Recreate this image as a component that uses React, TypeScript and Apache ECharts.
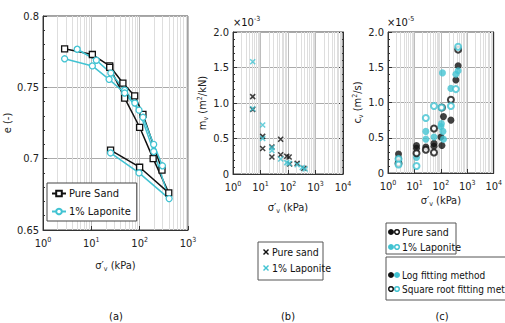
import React, { useEffect, useRef } from "react";
import * as echarts from "echarts";

// ---------- Panel (a): e vs sigma'v ----------
const sandA_x = [2.8, 10.5, 24, 45, 79, 117, 290];
const sandA_e = [0.777, 0.773, 0.765, 0.753, 0.744, 0.731, 0.692];
const sandB_x = [24, 49, 100, 190, 400, 100, 25];
const sandB_e = [0.764, 0.7425, 0.722, 0.7, 0.676, 0.694, 0.706];
const lapA_x = [5.1, 12.7, 25.3, 49, 79.5, 117, 195, 296];
const lapA_e = [0.7767, 0.769, 0.76, 0.748, 0.739, 0.729, 0.71, 0.695];
const lapB_x = [2.8, 10.5, 23.3, 49, 97, 195, 407, 97, 25];
const lapB_e = [0.77, 0.765, 0.7556, 0.746, 0.734, 0.705, 0.672, 0.69, 0.704];

// ---------- Panel (b): mv (x1e-3 m2/kN) ----------
const mvSand_x = [5.2, 5.2, 12, 12, 26, 26, 54, 54, 90, 110, 115, 215, 380];
const mvSand_y = [1.09, 0.91, 0.53, 0.36, 0.38, 0.24, 0.49, 0.27, 0.25, 0.24, 0.14, 0.15, 0.08];
const mvLap_x = [5.2, 5.2, 12, 12, 26, 26, 54, 90, 110, 215, 330, 420];
const mvLap_y = [1.58, 0.92, 0.69, 0.5, 0.37, 0.33, 0.21, 0.16, 0.15, 0.13, 0.09, 0.07];

// ---------- Panel (c): cv (x1e-5 m2/s) ----------
const cvSandLog_x = [2.5, 2.5, 12, 12, 27, 55, 55, 100, 110, 125, 240, 370, 450];
const cvSandLog_y = [0.27, 0.21, 0.39, 0.35, 0.37, 0.42, 0.38, 0.51, 0.39, 0.8, 0.75, 1.32, 1.52];
const cvSandSqrt_x = [2.5, 12, 27, 55, 55, 110, 240, 450];
const cvSandSqrt_y = [0.14, 0.28, 0.33, 0.63, 0.29, 0.93, 1.04, 1.75];
const cvLapLog_x = [2.5, 12, 27, 27, 55, 100, 105, 115, 120, 125, 240, 370, 450];
const cvLapLog_y = [0.18, 0.22, 0.59, 0.48, 0.51, 0.66, 0.7, 1.42, 0.59, 0.48, 1.2, 1.4, 1.45];
const cvLapSqrt_x = [2.5, 2.5, 12, 27, 55, 105, 240, 370, 450];
const cvLapSqrt_y = [0.2, 0.12, 0.1, 0.78, 0.95, 0.93, 0.95, 1.19, 1.79];

const minorA = [2, 3, 4, 5, 6, 7, 8, 9, 20, 30, 40, 50, 60, 70, 80, 90, 200, 300, 400, 500, 600, 700, 800, 900];
const minorBC = [...minorA, 2000, 3000, 4000, 5000, 6000, 7000, 8000, 9000];

const CYAN = "#42c3d2";
const BLACK = "#111111";
const FONT = '"Liberation Sans Narrow", "DejaVu Sans Condensed", "Liberation Sans", Arial, sans-serif';

const zip = (xs: number[], ys: number[]) => xs.map((x, i) => [x, ys[i]]);

const logLabel = {
  fontFamily: FONT,
  fontSize: 11,
  color: "#222",
  margin: 6,
  formatter: (v: number) => `{b|10}{s|${Math.round(Math.log10(v))}}`,
  rich: {
    b: { fontFamily: FONT, fontSize: 11, color: "#222" },
    s: { fontFamily: FONT, fontSize: 7, color: "#222", verticalAlign: "bottom", padding: [0, 0, 7, 0] },
  },
};

function xAxisLog(gridIndex: number, max: number, nameGap: number) {
  return {
    type: "log",
    logBase: 10,
    gridIndex,
    min: 1,
    max,
    name: "σ′{sub|v} (kPa)",
    nameLocation: "middle",
    nameGap,
    nameTextStyle: {
      fontFamily: FONT,
      fontSize: 11,
      color: "#222",
      rich: { sub: { fontFamily: FONT, fontSize: 7, verticalAlign: "top", padding: [6, 0, 0, 0] } },
    },
    axisLine: { show: true, lineStyle: { color: "#333", width: 1 } },
    axisTick: { show: true, inside: true, length: 4, lineStyle: { color: "#333" } },
    axisLabel: logLabel,
    splitLine: { show: true, lineStyle: { color: "#bdbdbd", width: 1 } },
  };
}

function minorSeries(xAxisIndex: number, yAxisIndex: number, vals: number[]) {
  return {
    type: "scatter",
    xAxisIndex,
    yAxisIndex,
    data: [],
    silent: true,
    z: 1,
    markLine: {
      silent: true,
      symbol: ["none", "none"],
      label: { show: false },
      lineStyle: { color: "#dedede", width: 1, type: "solid" },
      data: vals.map((v) => ({ xAxis: v })),
      animation: false,
    },
  };
}

export default function App() {
  const ref = useRef<HTMLDivElement>(null);
  useEffect(() => {
    if (!ref.current) return;
    const chart = echarts.init(ref.current, undefined, { renderer: "svg" });

    const yCommon = {
      axisLine: { show: true, lineStyle: { color: "#333", width: 1 } },
      axisTick: { show: true, inside: true, length: 4, lineStyle: { color: "#333" } },
      minorTick: { show: true, splitNumber: 5, length: 2, lineStyle: { color: "#333" } },
      splitLine: { show: true, lineStyle: { color: "#aaaaaa", width: 1 } },
    };
    const yName = (nameGap: number) => ({
      nameLocation: "middle",
      nameGap,
      nameTextStyle: {
        fontFamily: FONT,
        fontSize: 11,
        color: "#222",
        rich: {
          sub: { fontFamily: FONT, fontSize: 7, verticalAlign: "top", padding: [6, 0, 0, 0] },
          sup: { fontFamily: FONT, fontSize: 7, verticalAlign: "bottom", padding: [0, 0, 6, 0] },
        },
      },
    });
    const yLabel = (fmt: (v: number) => string) => ({
      fontFamily: FONT,
      fontSize: 11,
      color: "#222",
      margin: 4,
      formatter: fmt,
    });
    const rightAxis = (gridIndex: number) => ({
      type: "value",
      gridIndex,
      position: "right",
      min: 0,
      max: 2,
      interval: 0.5,
      axisLine: { show: true, lineStyle: { color: "#333" } },
      axisTick: { show: true, inside: true, length: 4, lineStyle: { color: "#333" } },
      minorTick: { show: true, splitNumber: 5, length: 2, lineStyle: { color: "#333" } },
      axisLabel: { show: false },
      splitLine: { show: false },
    });

    const xMark = "path://M0,0L10,10M10,0L0,10";

    const lineA = (name: string, xs: number[], ys: number[], color: string, symbol: string) => ({
      type: "line",
      name,
      xAxisIndex: 0,
      yAxisIndex: 0,
      data: zip(xs, ys),
      symbol,
      symbolSize: 6,
      showSymbol: true,
      lineStyle: { color, width: 1.5 },
      itemStyle: { color: "#ffffff", borderColor: color, borderWidth: 1.3 },
      z: 5,
    });

    const dot = (name: string, xs: number[], ys: number[], color: string, open: boolean) => ({
      type: "scatter",
      name,
      xAxisIndex: 2,
      yAxisIndex: 3,
      data: zip(xs, ys),
      symbol: "circle",
      symbolSize: open ? 6 : 7,
      itemStyle: open
        ? { color: "#ffffff", borderColor: color, borderWidth: 2 }
        : { color, borderColor: color, borderWidth: 0 },
      z: open ? 6 : 5,
    });

    const gcircle = (cx: number, cy: number, color: string, open: boolean) => ({
      type: "circle",
      shape: { cx, cy, r: open ? 2.3 : 3 },
      style: open ? { fill: "#fff", stroke: color, lineWidth: 1.5 } : { fill: color, stroke: color, lineWidth: 0 },
      z: 100,
    });
    const gx = (cx: number, cy: number, color: string) => ({
      type: "group",
      z: 100,
      children: [
        { type: "line", shape: { x1: cx - 2.5, y1: cy - 2.5, x2: cx + 2.5, y2: cy + 2.5 }, style: { stroke: color, lineWidth: 1.4 }, z: 100 },
        { type: "line", shape: { x1: cx + 2.5, y1: cy - 2.5, x2: cx - 2.5, y2: cy + 2.5 }, style: { stroke: color, lineWidth: 1.4 }, z: 100 },
      ],
    });
    const gtext = (x: number, y: number, text: string, size = 11, align = "left", rich?: any) => ({
      type: "text",
      x,
      y,
      style: { text, fontFamily: FONT, fontSize: size, fill: "#111", verticalAlign: "middle", align, rich },
      z: 100,
    });

    const option: any = {
      animation: false,
      backgroundColor: "#ffffff",
      grid: [
        { left: 43, top: 16, width: 145, height: 214, show: true, borderColor: "#444", borderWidth: 1, backgroundColor: "transparent" },
        { left: 233, top: 32, width: 110, height: 142, show: true, borderColor: "#444", borderWidth: 1, backgroundColor: "transparent" },
        { left: 388, top: 32, width: 106, height: 141, show: true, borderColor: "#444", borderWidth: 1, backgroundColor: "transparent" },
      ],
      xAxis: [xAxisLog(0, 1000, 29), xAxisLog(1, 10000, 27), xAxisLog(2, 10000, 21)],
      yAxis: [
        {
          type: "value",
          gridIndex: 0,
          min: 0.65,
          max: 0.8,
          interval: 0.05,
          name: "e (-)",
          ...yName(27),
          ...yCommon,
          axisLabel: yLabel((v: number) => String(+v.toFixed(2))),
        },
        {
          type: "value",
          gridIndex: 1,
          min: 0,
          max: 2,
          interval: 0.5,
          name: "m{sub|v} (m{sup|2}/kN)",
          ...yName(22),
          ...yCommon,
          axisLabel: yLabel((v: number) => (v === 0 ? "0" : v.toFixed(1))),
        },
        rightAxis(1),
        {
          type: "value",
          gridIndex: 2,
          min: 0,
          max: 2,
          interval: 0.5,
          name: "c{sub|v} (m{sup|2}/s)",
          ...yName(17),
          ...yCommon,
          axisLabel: yLabel((v: number) => (v === 0 ? "0" : v.toFixed(1))),
        },
        rightAxis(2),
      ],
      legend: [
        {
          data: ["Pure Sand", "1% Laponite"],
          orient: "vertical",
          left: 47,
          top: 183,
          backgroundColor: "#ffffff",
          borderColor: "#444",
          borderWidth: 1,
          borderRadius: 0,
          padding: [5, 6, 4, 4],
          itemGap: 7,
          itemWidth: 14,
          itemHeight: 7,
          textStyle: { fontFamily: FONT, fontSize: 11, color: "#111", padding: [0, 0, 0, -2] },
          selectedMode: false,
          z: 50,
        },
      ],
      series: [
        minorSeries(0, 0, minorA),
        minorSeries(1, 1, minorBC),
        minorSeries(2, 3, minorBC),
        lineA("Pure Sand", sandA_x, sandA_e, BLACK, "rect"),
        lineA("Pure Sand", sandB_x, sandB_e, BLACK, "rect"),
        lineA("1% Laponite", lapA_x, lapA_e, CYAN, "circle"),
        lineA("1% Laponite", lapB_x, lapB_e, CYAN, "circle"),
        {
          type: "scatter",
          name: "mv Pure sand",
          xAxisIndex: 1,
          yAxisIndex: 1,
          data: zip(mvSand_x, mvSand_y),
          symbol: xMark,
          symbolSize: 5,
          itemStyle: { color: "transparent", borderColor: BLACK, borderWidth: 1.5 },
          z: 5,
        },
        {
          type: "scatter",
          name: "mv 1% Laponite",
          xAxisIndex: 1,
          yAxisIndex: 1,
          data: zip(mvLap_x, mvLap_y),
          symbol: xMark,
          symbolSize: 5,
          itemStyle: { color: "transparent", borderColor: CYAN, borderWidth: 1.5 },
          z: 5,
        },
        dot("cv sand log", cvSandLog_x, cvSandLog_y, BLACK, false),
        dot("cv lap log", cvLapLog_x, cvLapLog_y, CYAN, false),
        dot("cv sand sqrt", cvSandSqrt_x, cvSandSqrt_y, BLACK, true),
        dot("cv lap sqrt", cvLapSqrt_x, cvLapSqrt_y, CYAN, true),
      ],
      graphic: [
        gtext(233, 22, "×10{s|-3}", 11, "left", { s: { fontFamily: FONT, fontSize: 7, verticalAlign: "bottom", padding: [0, 0, 6, 0] } }),
        gtext(387, 22, "×10{s|-5}", 11, "left", { s: { fontFamily: FONT, fontSize: 7, verticalAlign: "bottom", padding: [0, 0, 6, 0] } }),
        // legend (b)
        { type: "rect", shape: { x: 258, y: 242, width: 65, height: 38 }, style: { fill: "#fff", stroke: "#555", lineWidth: 1 }, z: 90 },
        gx(266, 252, BLACK),
        gtext(272, 252, "Pure sand", 10.5),
        gx(266, 268, CYAN),
        gtext(272, 268, "1% Laponite", 10.5),
        // legend (c) box 1
        { type: "rect", shape: { x: 386, y: 223, width: 70, height: 31 }, style: { fill: "#fff", stroke: "#555", lineWidth: 1 }, z: 90 },
        gcircle(391, 232, BLACK, false),
        gcircle(397, 232, BLACK, true),
        gtext(402, 232, "Pure sand", 10.5),
        gcircle(391, 247, CYAN, false),
        gcircle(397, 247, CYAN, true),
        gtext(402, 247, "1% Laponite", 10.5),
        // legend (c) box 2
        { type: "rect", shape: { x: 386, y: 257, width: 130, height: 43 }, style: { fill: "#fff", stroke: "#555", lineWidth: 1 }, z: 90 },
        gcircle(391, 275, BLACK, false),
        gcircle(397, 275, CYAN, false),
        gtext(402, 275, "Log fitting method", 10),
        gcircle(391, 289, BLACK, true),
        gcircle(397, 289, CYAN, true),
        gtext(402, 289, "Square root fitting method", 10),
        // panel labels
        gtext(116, 316, "(a)", 11, "center"),
        gtext(288, 316, "(b)", 11, "center"),
        gtext(442, 316, "(c)", 11, "center"),
      ],
    };
    chart.setOption(option);
    return () => chart.dispose();
  }, []);

  return <div ref={ref} style={{ position: "fixed", left: 0, top: 0, width: 505, height: 323 }} />;
}
